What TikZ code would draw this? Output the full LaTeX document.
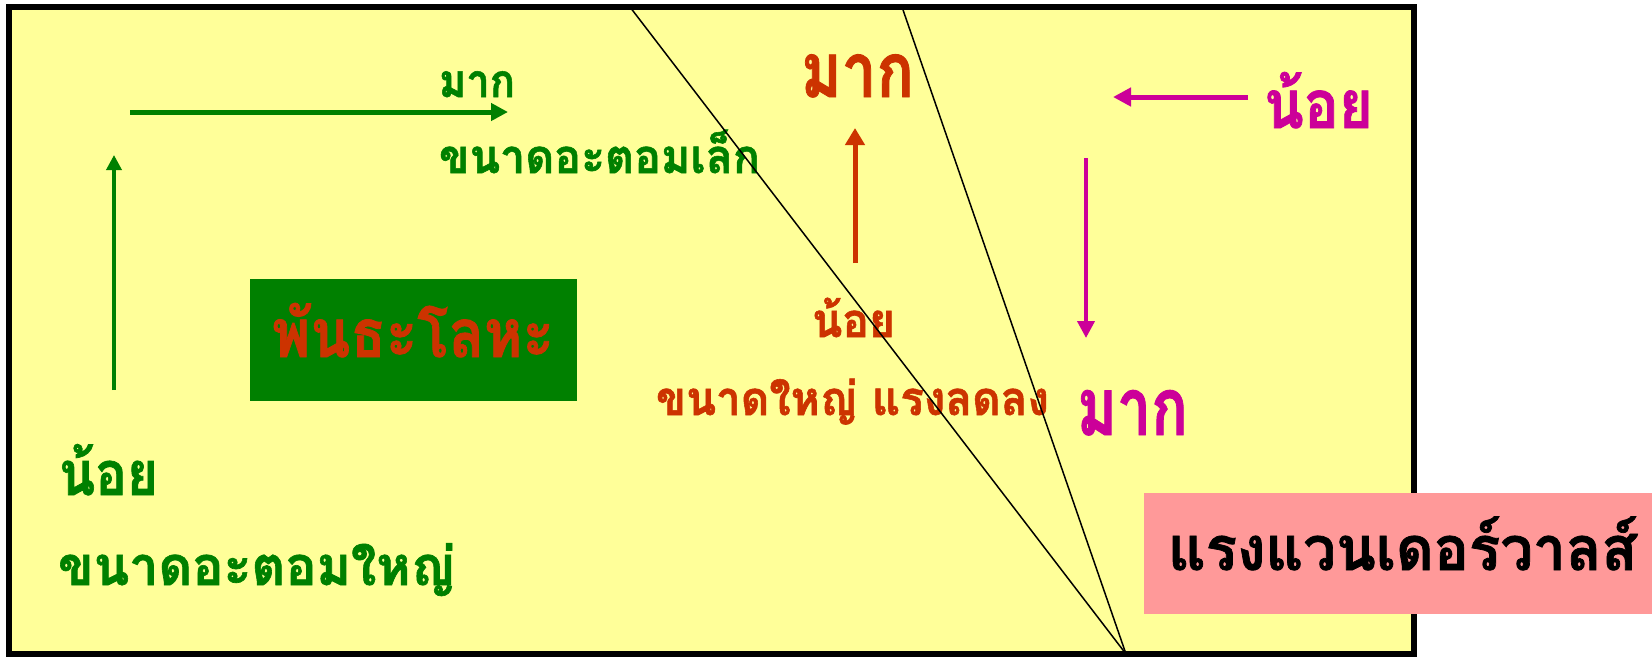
\documentclass[tikz,border=0pt]{standalone}
\usepackage{fontspec}
\usepackage{graphicx}
\usetikzlibrary{arrows.meta}
\newfontfamily\thaifont[Script=Thai, FakeBold=1.2]{Loma}
\definecolor{bgyellow}{HTML}{FFFF99}
\definecolor{dkgreen}{HTML}{008000}
\definecolor{redorange}{HTML}{CC3300}
\definecolor{magen}{HTML}{CC0099}
\definecolor{pinkbox}{HTML}{FF9999}
% #1 font size, #2 target width, #3 text
\newcommand\thtext[3]{\resizebox{#2pt}{\height}{\thaifont\bfseries\fontsize{#1pt}{#1pt}\selectfont #3}}
\tikzset{
  lbl/.style={anchor=base west, inner sep=0pt, outer sep=0pt},
  divline/.style={line width=1.5pt, black},
  garrow/.style={dkgreen, -{Triangle[length=17pt, width=17pt]}},
  rarrow/.style={redorange, line width=5pt, -{Triangle[length=17pt, width=19pt]}},
  marrow/.style={magen, line width=5pt, -{Triangle[length=18pt, width=18pt]}},
}
\begin{document}
\begin{tikzpicture}[x=1pt, y=-1pt]
\useasboundingbox (0,0) rectangle (1652,657);
% frame
\draw[line width=6pt, fill=bgyellow] (9,7) rectangle (1414,654);
% green box
\node[fill=dkgreen, minimum width=327pt, minimum height=122pt, inner sep=0pt, anchor=north west] (gbox) at (250,279) {};
\node[lbl, text=redorange] (gtxt) at (272,357) {\thtext{67}{282}{พันธะโลหะ}};
% pink box
\node[fill=pinkbox, minimum width=508pt, minimum height=121pt, inner sep=0pt, anchor=north west] (pbox) at (1144,493) {};
\node[lbl, text=black] (ptxt) at (1168,570) {\thtext{61}{469}{แรงแวนเดอร์วาลส์}};
% green texts
\node[lbl, text=dkgreen] (gmak) at (439,97) {\thtext{46}{76}{มาก}};
\node[lbl, text=dkgreen] (gsmall) at (439,173) {\thtext{47}{321}{ขนาดอะตอมเล็ก}};
\node[lbl, text=dkgreen] (gnoi) at (59,495) {\thtext{61}{99}{น้อย}};
\node[lbl, text=dkgreen] (gbig) at (58,585) {\thtext{54}{397}{ขนาดอะตอมใหญ่}};
% red texts
\node[lbl, text=redorange] (rmak) at (801,97) {\thtext{76}{113}{มาก}};
\node[lbl, text=redorange] (rnoi) at (812,337) {\thtext{47}{83}{น้อย}};
\node[lbl, text=redorange] (rbig) at (656,415) {\thtext{47}{393}{ขนาดใหญ่ แรงลดลง}};
% magenta texts
\node[lbl, text=magen] (mnoi) at (1264,128) {\thtext{67}{109}{น้อย}};
\node[lbl, text=magen] (mmak) at (1077,435) {\thtext{80}{111}{มาก}};
% arrows
\coordinate (gh1) at (130,112); \coordinate (gh2) at (508,112);
\coordinate (gv1) at (114,390); \coordinate (gv2) at (114,155);
\coordinate (ru1) at (855,263); \coordinate (ru2) at (855,128);
\coordinate (ml1) at (1248,97); \coordinate (ml2) at (1113,97);
\coordinate (md1) at (1086,158); \coordinate (md2) at (1086,338);
\draw[garrow, line width=5pt] (gh1) -- (gh2);
\draw[garrow, line width=3.5pt, -{Triangle[length=15pt, width=15pt]}] (gv1) -- (gv2);
\draw[rarrow] (ru1) -- (ru2);
\draw[marrow] (ml1) -- (ml2);
\draw[marrow, line width=4pt, -{Triangle[length=17pt, width=17pt]}] (md1) -- (md2);
% divider lines
\coordinate (t1) at (630,7);
\coordinate (t2) at (902,7);
\coordinate (bot) at (1126,654);
\draw[divline] (t1) -- (bot);
\draw[divline] (t2) -- (bot);
\end{tikzpicture}
\end{document}
